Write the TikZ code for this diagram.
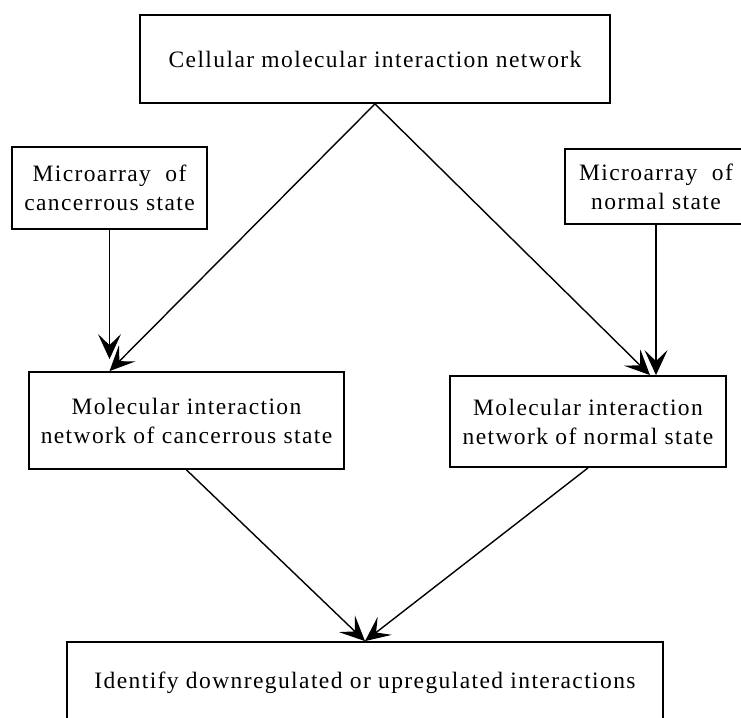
\documentclass[tikz,border=0pt]{standalone}
\usepackage{fontspec}
\setmainfont{Liberation Serif}[LetterSpace=6]
\usetikzlibrary{arrows.meta,positioning}
\tikzstyle{etapa} = [draw, line width=1.8pt, text centered, align=center,
  font=\fontsize{23.5}{29}\selectfont, inner sep=0pt]
\tikzstyle{flecha} = [draw, line width=1.4pt,
  -{Stealth[length=25pt,width=23pt,inset=11pt]}]
\newcommand{\etapa}[4]{node (#1) [etapa, minimum width=#2,
  minimum height=#3] {#4}}

\begin{document}
\begin{tikzpicture}[x=1pt,y=-1pt]
  \useasboundingbox (0,0) rectangle (741,717);

  % Draw diagram elements
  \path (375,59) \etapa{red}{470pt}{88pt}{Cellular molecular interaction network};
  \path (red.center)+(-265.5,129) \etapa{micL}{195pt}{82pt}{Microarray\ \ of\\cancerrous state};
  \path (red.center)+(281,127.5) \etapa{micR}{182pt}{75pt}{Microarray\ \ of\\normal state};
  \path (micL.center)+(77,232.5) \etapa{netL}{315pt}{97pt}{Molecular interaction\\network of cancerrous state};
  \path (micR.center)+(-68,235) \etapa{netR}{276pt}{91pt}{Molecular interaction\\network of normal state};
  \path (red.center)+(-10,624) \etapa{fin}{596pt}{82pt}{Identify downregulated or upregulated interactions};

  % Draw arrows between elements
  \path [flecha, shorten >=12pt] (micL.south) -- (micL.south |- netL.north);
  \path [flecha] (red.south) -- (micL.south |- netL.north);
  \path [flecha] (micR.south) -- (micR.south |- netR.north);
  \path [flecha] (red.south) -- ([xshift=-6pt]micR.south |- netR.north);

  \path [flecha] (netL.south) -- (fin.north);
  \path [flecha] (netR.south) -- (fin.north);
\end{tikzpicture}
\end{document}
